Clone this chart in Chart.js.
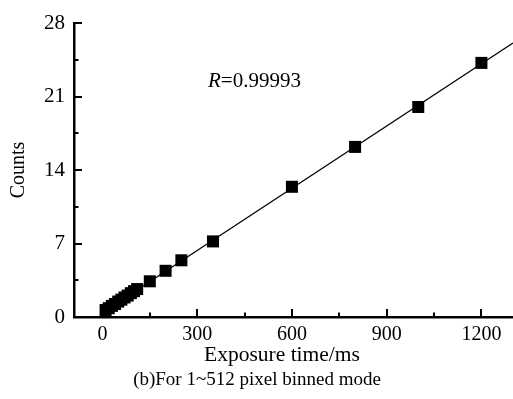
<!DOCTYPE html>
<html>
<head>
<meta charset="utf-8">
<script src="https://cdn.jsdelivr.net/npm/chart.js@4/dist/chart.umd.min.js"></script>
<style>
  html, body { margin: 0; padding: 0; background: #fff; }
  #wrap { width: 513px; height: 399px; }
</style>
</head>
<body>
<div id="wrap"><canvas id="chart" width="513" height="399"></canvas></div>
<script>
// measured points (exposure time in ms vs counts)
const exposure = [10, 20, 30, 40, 50, 60, 70, 80, 90, 100, 110, 150, 200, 250, 350, 600, 800, 1000, 1200];
const counts = [0.66, 0.84, 1.06, 1.24, 1.47, 1.65, 1.86, 2.04, 2.27, 2.46, 2.66, 3.4, 4.4, 5.4, 7.2, 12.4, 16.2, 20.0, 24.2];

// linear fit end points
const fitX = [0, 1300];
const fitY = [0.4, 26.1];

const xTicks = [0, 300, 600, 900, 1200];
const yTicks = [0, 7, 14, 21, 28];

const fitText = "=0.99993";
const xTitle = "Exposure time/ms";
const yTitle = "Counts";
const caption = "(b)For 1~512 pixel binned mode";

const serif = '"Liberation Serif", "Times New Roman", serif';

// inward tick marks, major + minor, plus the free texts
const extras = {
    id: 'extras',
    beforeDatasetsDraw(chart) {
        const ctx = chart.ctx;
        const xs = chart.scales.x, ys = chart.scales.y;
        const area = chart.chartArea;
        ctx.save();
        ctx.strokeStyle = '#000';
        ctx.lineWidth = 2;
        for (let v = 0; v <= 28; v += 3.5) {
            const len = yTicks.includes(v) ? 8 : 4.5;
            const py = Math.round(ys.getPixelForValue(v));
            ctx.beginPath();
            ctx.moveTo(area.left, py);
            ctx.lineTo(area.left + len, py);
            ctx.stroke();
        }
        for (let v = 0; v <= 1300; v += 150) {
            const len = xTicks.includes(v) ? 8 : 4.5;
            const px = Math.round(xs.getPixelForValue(v));
            ctx.beginPath();
            ctx.moveTo(px, area.bottom);
            ctx.lineTo(px, area.bottom - len);
            ctx.stroke();
        }
        ctx.restore();
    },
    afterDraw(chart) {
        const ctx = chart.ctx;
        ctx.save();
        ctx.fillStyle = '#000';
        ctx.textBaseline = 'alphabetic';
        // R=0.99993
        ctx.textAlign = 'left';
        ctx.font = 'italic 21px ' + serif;
        ctx.fillText('R', 208, 87);
        const w = ctx.measureText('R').width;
        ctx.font = '21px ' + serif;
        ctx.fillText(fitText, 208 + w, 87);
        // axis title and caption
        ctx.textAlign = 'center';
        ctx.font = '21.5px ' + serif;
        ctx.fillText(xTitle, 282, 361);
        ctx.font = '19px ' + serif;
        ctx.fillText(caption, 257, 385);
        ctx.restore();
    }
};

new Chart(document.getElementById('chart'), {
    data: {
        datasets: [
            {
                type: 'line',
                data: fitX.map((x, i) => ({ x: x, y: fitY[i] })),
                borderColor: '#000',
                borderWidth: 1.3,
                pointRadius: 0,
                fill: false,
            },
            {
                type: 'scatter',
                data: exposure.map((x, i) => ({ x: x, y: counts[i] })),
                pointStyle: 'rect',
                pointRadius: 8.5,
                backgroundColor: '#000',
                borderColor: '#000',
                borderWidth: 0,
            },
        ],
    },
    options: {
        responsive: false,
        animation: false,
        layout: { autoPadding: false, padding: { left: 0, top: 23, right: 0, bottom: 0 } },
        plugins: {
            legend: { display: false },
            tooltip: { enabled: false },
        },
        scales: {
            x: {
                type: 'linear',
                min: -90,
                max: 1300,
                grid: { display: false, drawTicks: false },
                border: { display: true, color: '#000', width: 2.5 },
                ticks: {
                    stepSize: 300,
                    includeBounds: false,
                    autoSkip: false,
                    maxRotation: 0,
                    padding: 6,
                    color: '#000',
                    font: { family: serif, size: 20 },
                    callback: (v) => xTicks.includes(v) ? String(v) : '',
                },
                afterFit: (s) => {
                    s.height = 82;
                    s.paddingLeft = 0;
                    s.paddingRight = 0;
                },
            },
            y: {
                type: 'linear',
                min: 0,
                max: 28,
                grid: { display: false, drawTicks: false },
                border: { display: true, color: '#000', width: 2.5 },
                ticks: {
                    stepSize: 7,
                    autoSkip: false,
                    padding: 9,
                    color: '#000',
                    font: { family: serif, size: 21 },
                    callback: (v) => yTicks.includes(v) ? String(v) : '',
                },
                title: {
                    display: true,
                    text: yTitle,
                    color: '#000',
                    font: { family: serif, size: 20 },
                    padding: { top: 7, bottom: 0 },
                },
                afterFit: (s) => { s.width = 74; },
            },
        },
    },
    plugins: [extras],
});
</script>
</body>
</html>
